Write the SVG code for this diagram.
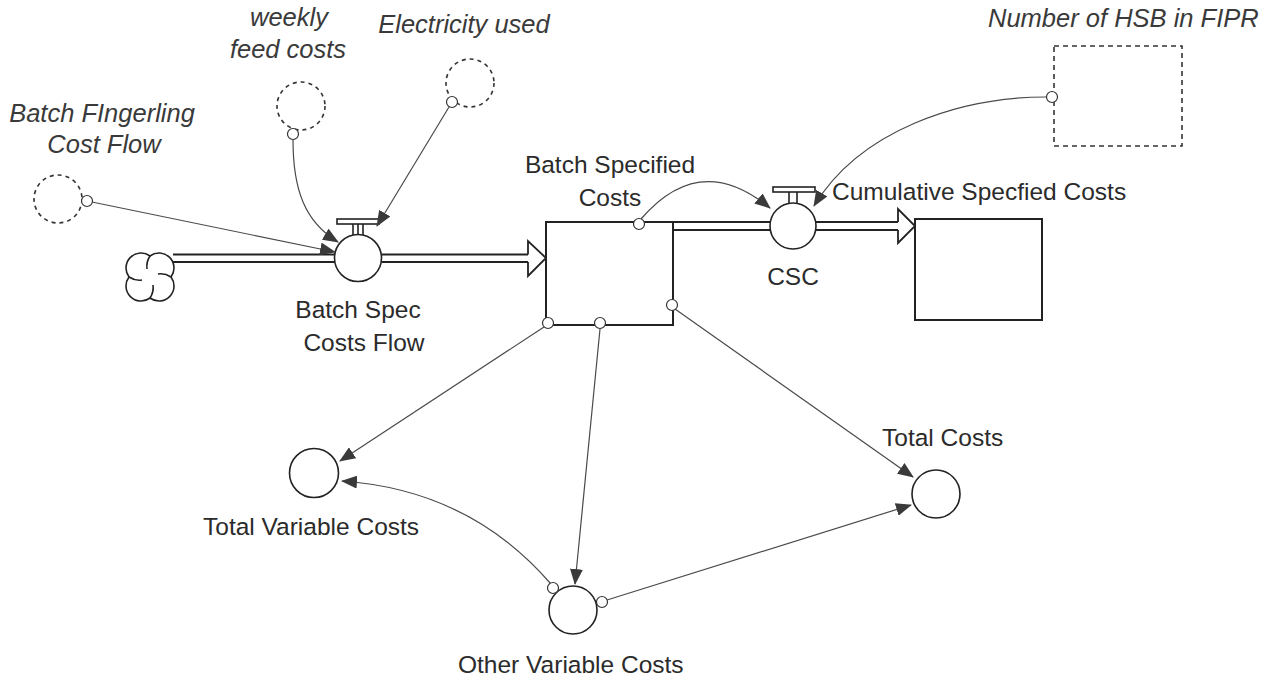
<svg xmlns="http://www.w3.org/2000/svg" width="1268" height="677" viewBox="0 0 1268 677">
  <style>
    .lbl { font-family: "Liberation Sans", Arial, sans-serif; font-size: 24.5px; fill: #2b2b2b; }
    .ital { font-style: italic; font-size: 25.5px; fill: #3a3a3a; }
    .stock { fill: #fff; stroke: #222; stroke-width: 2; }
    .aux { fill: #fff; stroke: #222; stroke-width: 1.6; }
    .ghost { fill: none; stroke: #333; stroke-width: 1.6; stroke-dasharray: 4 4; }
    .pipe { fill: none; stroke: #222; stroke-width: 1.8; }
    .link { fill: none; stroke: #4a4a4a; stroke-width: 1.2; marker-end: url(#head); }
    .tap { fill: #fff; stroke: #333; stroke-width: 1.2; }
  </style>
  <defs>
    <marker id="head" viewBox="0 0 16 13" refX="15" refY="6.5" markerWidth="16" markerHeight="13" markerUnits="userSpaceOnUse" orient="auto">
      <path d="M0,0 L16,6.5 L0,13 Z" fill="#3a3a3a"/>
    </marker>
  </defs>

  <rect width="1268" height="677" fill="#fff"/>

  <!-- flow pipes -->
  <g id="pipes">
    <path class="pipe" d="M173,254.5 H336 M173,262 H336"/>
    <path class="pipe" d="M382,254.5 H528 M382,262 H528"/>
    <path d="M528,254.5 V241 L546,258 L528,276 V262" fill="#fff" stroke="#222" stroke-width="1.8"/>
    <path class="pipe" d="M673,222 H770 M673,230 H770"/>
    <path class="pipe" d="M816,222 H898 M816,230 H898"/>
    <path d="M898,222 V209 L915,226 L898,243 V230" fill="#fff" stroke="#222" stroke-width="1.8"/>
  </g>

  <!-- source cloud -->
  <g id="cloud">
    <path d="M150,256 A15,15 0 0 1 171,277 A15,15 0 0 1 150,298 A15,15 0 0 1 129,277 A15,15 0 0 1 150,256 Z" fill="#fff" stroke="#222" stroke-width="1.6"/>
    <path d="M150,256 Q146,262 147,269 M171,277 Q165,273 158,274 M150,298 Q154,292 153,285 M129,277 Q135,281 142,280" fill="none" stroke="#222" stroke-width="1.6"/>
  </g>

  <!-- stocks -->
  <g id="batch-specified-costs">
    <rect class="stock" x="546" y="222" width="127" height="103"/>
    <text class="lbl" x="610" y="173" text-anchor="middle">Batch Specified</text>
    <text class="lbl" x="610" y="206" text-anchor="middle">Costs</text>
  </g>
  <g id="cumulative-specified-costs">
    <rect class="stock" x="915" y="219" width="127" height="101"/>
    <text class="lbl" x="832" y="200">Cumulative Specfied Costs</text>
  </g>

  <!-- flow valves -->
  <g id="batch-spec-costs-flow">
    <rect x="337" y="219" width="42" height="5" fill="#fff" stroke="#222" stroke-width="1.6"/>
    <path d="M353,235 V224 M358,235 V224 M363,235 V224" fill="none" stroke="#222" stroke-width="1.6"/>
    <circle class="aux" cx="358" cy="258" r="23.5"/>
    <text class="lbl" x="358" y="318" text-anchor="middle">Batch Spec</text>
    <text class="lbl" x="364" y="351" text-anchor="middle">Costs Flow</text>
  </g>
  <g id="csc">
    <rect x="773" y="187" width="42" height="5" fill="#fff" stroke="#222" stroke-width="1.6"/>
    <path d="M789,203 V192 M797,203 V192" fill="none" stroke="#222" stroke-width="1.6"/>
    <circle class="aux" cx="793" cy="226" r="23"/>
    <text class="lbl" x="793" y="285" text-anchor="middle">CSC</text>
  </g>

  <!-- auxiliaries -->
  <g id="total-variable-costs">
    <circle class="aux" cx="314" cy="473" r="24.5"/>
    <text class="lbl" x="203" y="535">Total Variable Costs</text>
  </g>
  <g id="other-variable-costs">
    <circle class="aux" cx="573" cy="610" r="24"/>
    <text class="lbl" x="458" y="673">Other Variable Costs</text>
  </g>
  <g id="total-costs">
    <circle class="aux" cx="936" cy="494" r="24"/>
    <text class="lbl" x="882" y="446">Total Costs</text>
  </g>

  <!-- shadow variables -->
  <g id="batch-fingerling-cost-flow">
    <circle class="ghost" cx="58" cy="199" r="24"/>
    <text class="lbl ital" x="102" y="122" text-anchor="middle">Batch FIngerling</text>
    <text class="lbl ital" x="104" y="153" text-anchor="middle">Cost Flow</text>
  </g>
  <g id="weekly-feed-costs">
    <circle class="ghost" cx="301" cy="106" r="24"/>
    <text class="lbl ital" x="289" y="26" text-anchor="middle">weekly</text>
    <text class="lbl ital" x="288" y="58" text-anchor="middle">feed costs</text>
  </g>
  <g id="electricity-used">
    <circle class="ghost" cx="470" cy="83" r="24"/>
    <text class="lbl ital" x="464" y="33" text-anchor="middle">Electricity used</text>
  </g>
  <g id="number-of-hsb">
    <rect x="1054" y="46" width="128" height="100" fill="none" stroke="#333" stroke-width="1.6" stroke-dasharray="5 4"/>
    <text class="lbl ital" x="988" y="27">Number of HSB in FIPR</text>
  </g>

  <!-- information links -->
  <g id="connectors">
    <path class="link" d="M92,202 L335,252"/>
    <path class="link" d="M293,140 C293,190 305,222 338,242"/>
    <path class="link" d="M449,107 L377,226"/>
    <path class="link" d="M641,219 Q700,150 770,208"/>
    <path class="link" d="M1046,97 C960,97 860,130 814,206"/>
    <path class="link" d="M544,327 L340,461"/>
    <path class="link" d="M600,329 L575,584"/>
    <path class="link" d="M675,309 L913,477"/>
    <path class="link" d="M551,584 Q470,490 342,481"/>
    <path class="link" d="M607,600 L911,505"/>
  </g>

  <!-- link origin taps -->
  <g id="taps">
    <circle class="tap" cx="87" cy="201" r="5.5"/>
    <circle class="tap" cx="293" cy="134" r="5.5"/>
    <circle class="tap" cx="452" cy="102" r="5.5"/>
    <circle class="tap" cx="639" cy="224" r="5.5"/>
    <circle class="tap" cx="1052" cy="97" r="5.5"/>
    <circle class="tap" cx="548" cy="323" r="5.5"/>
    <circle class="tap" cx="600" cy="323" r="5.5"/>
    <circle class="tap" cx="672" cy="305" r="5.5"/>
    <circle class="tap" cx="553" cy="588" r="5.5"/>
    <circle class="tap" cx="602" cy="602" r="5.5"/>
  </g>
</svg>
